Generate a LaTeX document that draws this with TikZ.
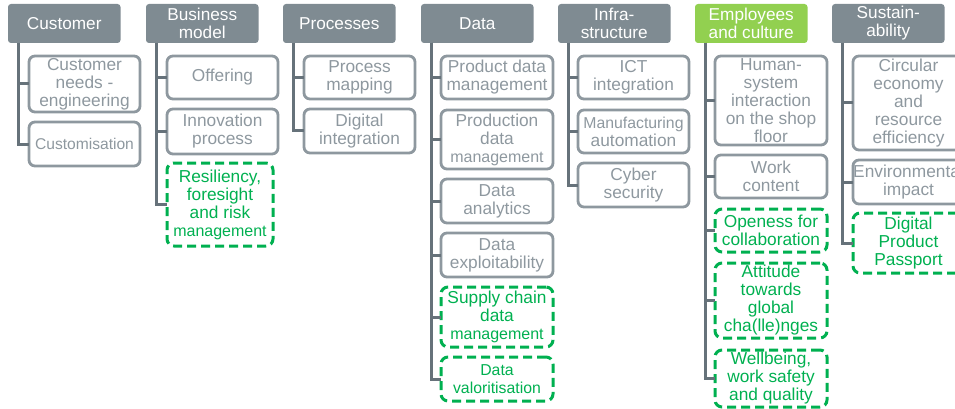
\documentclass[tikz,border=0pt]{standalone}
\usepackage{fontspec}
\setmainfont{Liberation Sans}
\definecolor{hdrgray}{HTML}{7F8B92}
\definecolor{hdrgreen}{HTML}{92D050}
\definecolor{boxgray}{HTML}{8E989F}
\definecolor{trunkgray}{HTML}{66727A}
\definecolor{dgreen}{HTML}{00B050}
\newcommand{\smallln}[1]{{\fontsize{16}{17.6}\selectfont #1}}
\tikzset{
  hdr/.style={rectangle, rounded corners=3pt, fill=hdrgray, text=white, anchor=north west,
    minimum width=112.5pt, minimum height=39pt, inner sep=0pt, outer sep=0pt, align=center,
    font=\fontsize{17.2}{18}\selectfont},
  hdrg/.style={hdr, fill=hdrgreen},
  sub/.style={rectangle, rounded corners=6pt, draw=boxgray, line width=2.8pt, text=boxgray,
    anchor=north west, minimum width=111pt, inner sep=0pt, outer sep=0pt, align=center,
    font=\fontsize{17.3}{18}\selectfont},
  subnew/.style={sub, rounded corners=7pt, draw=dgreen, text=dgreen, line width=3pt,
    dash pattern=on 9pt off 5pt},
  fsz/.style={font=\fontsize{#1}{17.6}\selectfont},
  trunk/.style={draw=trunkgray, line width=3pt},
}
\begin{document}
\begin{tikzpicture}[x=1pt,y=-1pt]
\useasboundingbox (0,0) rectangle (955,409);
% headers
\node[hdr] (h1) at (8,4) {Customer};
\node[hdr] (h2) at (146,4) {Business\\model};
\node[hdr] (h3) at (283,4) {Processes};
\node[hdr] (h4) at (421,4) {Data};
\node[hdr] (h5) at (558,4) {Infra-\\structure};
\node[hdrg] (h6) at (695,4) {Employees\\and culture};
\node[hdr] (h7) at (832,4) {Sustain-\\ability};
% Customer
\node[sub, minimum height=56pt] (c11) at (29,56) {Customer\\needs -\\engineering};
\node[sub, minimum height=44pt, fsz=15.6] (c12) at (29,122) {Customisation};
% Business model
\node[sub, minimum height=43pt] (c21) at (167,56) {Offering};
\node[sub, minimum height=45pt] (c22) at (167,109) {Innovation\\process};
\node[subnew, minimum height=83pt, minimum width=106pt] (c23) at (167,163) {Resiliency,\\foresight\\and risk\\\smallln{management}};
% Processes
\node[sub, minimum height=43pt] (c31) at (304,56) {Process\\mapping};
\node[sub, minimum height=44pt] (c32) at (304,109) {Digital\\integration};
% Data
\node[sub, minimum height=43pt, minimum width=112pt] (c41) at (441,56) {Product data\\management};
\node[sub, minimum height=59pt, minimum width=112pt] (c42) at (441,110) {Production\\data\\\smallln{management}};
\node[sub, minimum height=44pt, minimum width=112pt] (c43) at (441,179) {Data\\analytics};
\node[sub, minimum height=44pt, minimum width=112pt] (c44) at (441,233) {Data\\exploitability};
\node[subnew, minimum height=60pt, minimum width=112pt] (c45) at (441,287) {Supply chain\\data\\\smallln{management}};
\node[subnew, minimum height=44pt, minimum width=112pt, fsz=15.8] (c46) at (441,357) {Data\\valoritisation};
% Infrastructure
\node[sub, minimum height=43pt] (c51) at (578,56) {ICT\\integration};
\node[sub, minimum height=43pt] (c52) at (578,110) {{\fontsize{15.8}{17.6}\selectfont Manufacturing}\\automation};
\node[sub, minimum height=44pt] (c53) at (578,163) {Cyber\\security};
% Employees and culture
\node[sub, minimum height=89pt, minimum width=112pt] (c61) at (715,56) {Human-\\system\\interaction\\on the shop\\floor};
\node[sub, minimum height=43pt, minimum width=112pt] (c62) at (715,155) {Work\\content};
\node[subnew, minimum height=43pt, minimum width=112pt] (c63) at (715,209) {Openess for\\collaboration};
\node[subnew, minimum height=75pt, minimum width=112pt] (c64) at (715,263) {Attitude\\towards\\global\\cha(lle)nges};
\node[subnew, minimum height=57pt, minimum width=112pt] (c65) at (715,350) {Wellbeing,\\work safety\\and quality};
% Sustainability
\node[sub, minimum height=94pt] (c71) at (853,56) {Circular\\economy\\and\\resource\\efficiency};
\node[sub, minimum height=44pt] (c72) at (853,160) {Environmental\\impact};
\node[subnew, minimum height=60pt] (c73) at (853,213) {Digital\\Product\\Passport};
% connectors
\foreach \h/\c in {h1/c11,h1/c12,
                   h2/c21,h2/c22,h2/c23,
                   h3/c31,h3/c32,
                   h4/c41,h4/c42,h4/c43,h4/c44,h4/c45,h4/c46,
                   h5/c51,h5/c52,h5/c53,
                   h6/c61,h6/c62,h6/c63,h6/c64,h6/c65,
                   h7/c71,h7/c72,h7/c73}
  \draw[trunk] ([xshift=10pt]\h.south west) |- (\c.west);
\end{tikzpicture}
\end{document}
